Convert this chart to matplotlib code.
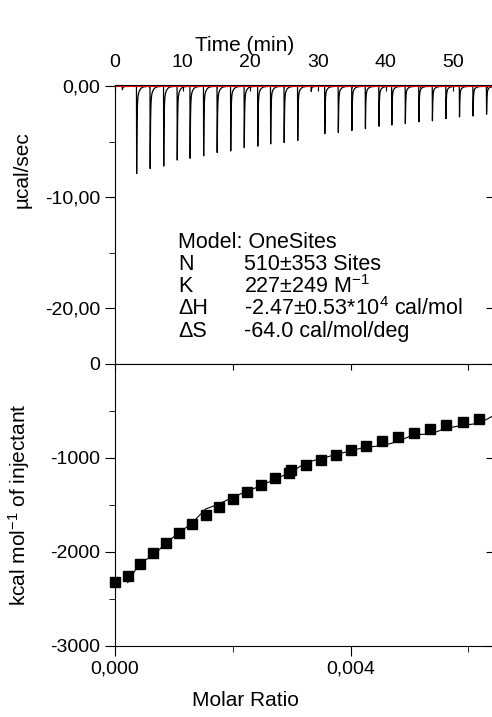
import numpy as np
import matplotlib
matplotlib.use("Agg")
import matplotlib.pyplot as plt
from matplotlib.ticker import MultipleLocator, FuncFormatter, NullFormatter

plt.rcParams["font.family"] = ["Liberation Sans", "DejaVu Sans"]
plt.rcParams["mathtext.fontset"] = "custom"
plt.rcParams["mathtext.rm"] = "Liberation Sans"
plt.rcParams["mathtext.it"] = "Liberation Sans:italic"

# raw thermogram: injection times (min) and peak depths (ucal/sec)
inj_time = [1.1, 3.2, 5.2, 7.2, 9.2, 11.1, 13.1, 15.1, 17.1, 19.1, 21.1, 23.0, 25.0, 27.0,
            29.0, 31.0, 33.0, 35.0, 37.0, 39.0, 40.9, 42.9, 44.9, 46.9, 48.9, 50.9, 52.9, 54.9]
inj_depth = [0.3, 7.91, 7.46, 7.22, 6.72, 6.57, 6.27, 6.03, 5.82, 5.58, 5.40, 5.22, 5.10, 4.93,
             0.45, 4.33, 4.18, 4.03, 3.82, 3.64, 3.52, 3.37, 3.22, 3.13, 2.93, 2.78, 2.69, 2.54]

# integrated heats
molar_ratio = [0.0, 0.000215, 0.00043, 0.000645, 0.00086, 0.001086, 0.001312, 0.00154,
               0.001765, 0.001997, 0.002235, 0.002478, 0.00272, 0.00296, 0.00298,
               0.003241, 0.00349, 0.003745, 0.004005, 0.004265, 0.00453, 0.004803,
               0.00507, 0.005346, 0.005623, 0.0059, 0.006183]
heat = [-2318, -2258, -2130, -2016, -1903, -1800, -1700, -1608, -1519, -1438, -1363,
        -1289, -1218, -1165, -1130, -1079, -1022, -973, -916, -870, -820, -777, -731,
        -692, -653, -618, -586]

# fitted curve
fit_x = [0.000215, 0.00043, 0.000645, 0.00086, 0.001086, 0.001312, 0.001539, 0.001765,
         0.001997, 0.002235, 0.002478, 0.00272, 0.002975, 0.003241, 0.00349, 0.003745,
         0.004005, 0.004265, 0.004531, 0.004803, 0.005069, 0.005346, 0.005623, 0.0059,
         0.006183, 0.006392]
fit_y = [-2329, -2105, -2052, -1903, -1800, -1690, -1544, -1491, -1420, -1356, -1296,
         -1225, -1157, -1051, -1008, -966, -923, -884, -873, -824, -753, -746, -685,
         -653, -632, -561]

# build the trace from the injections
t = np.linspace(0, 56, 40000)
sig = np.zeros_like(t)
for ti, d in zip(inj_time, inj_depth):
    dt = t - ti
    rise = (dt >= -0.03) & (dt < 0)
    sig[rise] -= d * (dt[rise] + 0.03) / 0.03
    m = dt >= 0
    sig[m] -= d * (0.8 * np.exp(-dt[m] / 0.05) + 0.2 * np.exp(-dt[m] / 0.3))

FS_TICK = 14
FS_LAB = 15
FS_TXT = 15.5

fig = plt.figure(figsize=(4.92, 7.17), dpi=100)
W, H = 492, 717
ax1 = fig.add_axes([115 / W, 1 - 364 / H, 1 - 115 / W, (364 - 85) / H])
ax2 = fig.add_axes([115 / W, 1 - 645.7 / H, 1 - 115 / W, (645.7 - 364) / H])

# top panel
ax1.plot(t, sig, color="black", lw=0.9)
ax1.axhline(0, color="red", lw=0.8)
ax1.set_xlim(0, 55.7)
ax1.set_ylim(-25, 0.12)
ax1.xaxis.tick_top()
ax1.xaxis.set_label_position("top")
ax1.set_xlabel("Time (min)", fontsize=FS_LAB, labelpad=2)
ax1.xaxis.label.set_x(0.345)
ax1.xaxis.set_major_locator(MultipleLocator(10))
ax1.xaxis.set_minor_locator(MultipleLocator(5))
ax1.yaxis.set_major_locator(MultipleLocator(10))
ax1.yaxis.set_minor_locator(MultipleLocator(5))
ax1.yaxis.set_major_formatter(FuncFormatter(lambda v, p: f"{v:.2f}".replace(".", ",")))
ax1.tick_params(axis="x", which="both", direction="in", top=True, bottom=False,
                labelsize=FS_TICK, pad=10)
ax1.tick_params(axis="x", which="major", length=4)
ax1.tick_params(axis="x", which="minor", length=2)
ax1.tick_params(axis="y", which="major", direction="out", length=7, labelsize=FS_TICK)
ax1.tick_params(axis="y", which="minor", direction="out", length=4)
ax1.spines["right"].set_visible(False)
ax1.set_ylabel("µcal/sec", fontsize=FS_LAB)
ax1.yaxis.set_label_coords(-0.22, 0.695)

r1 = ax1.secondary_yaxis("right")
r1.yaxis.set_major_locator(MultipleLocator(10))
r1.yaxis.set_major_formatter(NullFormatter())
r1.tick_params(direction="in", length=4)
r1.spines["right"].set_visible(False)

# fit parameters
lab_x, val_x = 0.167, 0.342
ax1.text(lab_x, 0.437, "Model: OneSites", transform=ax1.transAxes, fontsize=FS_TXT, va="center")
rows = [("N", "510±353 Sites"), ("K", r"227±249 M$^{-1}$"),
        ("ΔH", r"-2.47±0.53*10$^{4}$ cal/mol"), ("ΔS", "-64.0 cal/mol/deg")]
for i, (lab, val) in enumerate(rows):
    y = 0.358 - i * 0.08
    ax1.text(lab_x, y, lab, transform=ax1.transAxes, fontsize=FS_TXT, va="center")
    ax1.text(val_x, y, val, transform=ax1.transAxes, fontsize=FS_TXT, va="center")

# bottom panel
ax2.plot(fit_x, fit_y, color="black", lw=0.8)
ax2.plot(molar_ratio, heat, "s", color="black", ms=6.5, clip_on=False)
ax2.set_xlim(0, 0.0064)
ax2.set_ylim(-3000, 0)
ax2.xaxis.set_major_locator(MultipleLocator(0.004))
ax2.xaxis.set_minor_locator(MultipleLocator(0.002))
ax2.xaxis.set_major_formatter(FuncFormatter(lambda v, p: f"{v:.3f}".replace(".", ",")))
ax2.yaxis.set_major_locator(MultipleLocator(1000))
ax2.yaxis.set_minor_locator(MultipleLocator(500))
ax2.yaxis.set_major_formatter(FuncFormatter(lambda v, p: f"{v:.0f}"))
ax2.tick_params(axis="both", which="major", direction="out", length=7, labelsize=FS_TICK)
ax2.tick_params(axis="both", which="minor", direction="out", length=4)
ax2.spines["right"].set_visible(False)
ax2.spines["top"].set_visible(False)
ax2.set_xlabel("Molar Ratio", fontsize=FS_LAB, labelpad=10)
ax2.xaxis.label.set_x(0.345)
ax2.set_ylabel(r"kcal mol$^{-1}$ of injectant", fontsize=FS_LAB)
ax2.yaxis.set_label_coords(-0.22, 0.5)

t2 = ax2.secondary_xaxis("top")
t2.xaxis.set_major_locator(MultipleLocator(0.002))
t2.xaxis.set_major_formatter(NullFormatter())
t2.tick_params(direction="in", length=4)
r2 = ax2.secondary_yaxis("right")
r2.yaxis.set_major_locator(MultipleLocator(1000))
r2.yaxis.set_major_formatter(NullFormatter())
r2.tick_params(direction="in", length=4)
r2.spines["right"].set_visible(False)

fig.savefig("out.png", dpi=100)
